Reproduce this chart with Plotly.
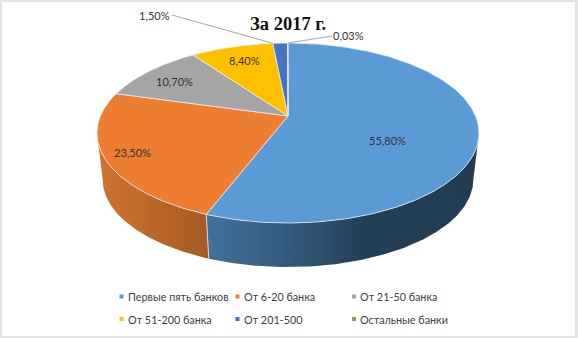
import numpy as np
import plotly.graph_objects as go

categories = ["Первые пять банков", "От 6-20 банка", "От 21-50 банка",
              "От 51-200 банка", "От 201-500", "Остальные банки"]
values = [55.8, 23.5, 10.7, 8.4, 1.5, 0.03]
value_labels = ["55,80%", "23,50%", "10,70%", "8,40%", "1,50%", "0,03%"]
colors = ["#5B9BD5", "#ED7D31", "#A5A5A5", "#FFC000", "#4472C4", "#70AD47"]
title_text = "За 2017 г."

W, H = 578, 338
CX, CY, A, B, K = 288, 116, 187.6, 86.8, 0.189
DY, S = 47.2, 0.97

def project(theta, radius=1.0, drop=0.0, scale=1.0):
    u, v = radius * np.sin(theta), -radius * np.cos(theta)
    w = 1 - K * v
    return CX + scale * A * u / w, CY + drop + scale * B * v / w

frac = np.array(values) / sum(values)
edges = np.concatenate([[0], np.cumsum(frac)]) * 2 * np.pi
ext_r = np.arccos(-K)
ext_l = 2 * np.pi - ext_r

fig = go.Figure()

# outer walls (front facing part only, between the two silhouette angles)
walls = {
    0: ([[0, "#41719B"], [0.3, "#34597E"], [0.58, "#243E56"], [1, "#223C51"]], 207, 480),
    1: ([[0, "#D0742F"], [1, "#A65924"]], 97, 209),
}
for i, (scale_, x0, x1) in walls.items():
    t = np.linspace(max(edges[i], ext_r), min(edges[i + 1], ext_l), 200)
    xt, yt = project(t)
    xb, yb = project(t[::-1], drop=DY, scale=S)
    fig.add_trace(go.Scatter(
        x=np.r_[xt, xb], y=np.r_[yt, yb], mode="lines", line=dict(width=0),
        fill="toself", hoverinfo="skip", showlegend=False,
        fillgradient=dict(type="horizontal", start=x0, stop=x1, colorscale=scale_)))

# wall seam
xa, ya = project(edges[1])
xc, yc = project(edges[1], drop=DY, scale=S)
fig.add_trace(go.Scatter(x=[xa, xc], y=[ya, yc], mode="lines",
                         line=dict(color="#D9D9D9", width=1),
                         hoverinfo="skip", showlegend=False))

# top faces
for i, cat in enumerate(categories):
    t = np.linspace(edges[i], edges[i + 1], 240)
    x, y = project(t)
    fig.add_trace(go.Scatter(
        x=np.r_[CX, x, CX], y=np.r_[CY, y, CY], mode="lines", name=cat,
        line=dict(color="#E8EEF4", width=0.8), fill="toself", fillcolor=colors[i],
        showlegend=False))

# leader lines
mx, my = project(edges[4])
fig.add_trace(go.Scatter(x=[mx, 172], y=[my, 15], mode="lines",
                         line=dict(color="#A6A6A6", width=1), hoverinfo="skip", showlegend=False))
mx, my = project((edges[5] + edges[6]) / 2)
fig.add_trace(go.Scatter(x=[mx, 328, 332], y=[my, 36, 36], mode="lines",
                         line=dict(color="#A6A6A6", width=1), hoverinfo="skip", showlegend=False))

# data labels
label_pos = [(387.5, 140), (132, 152), (174, 81), (244, 60), (154, 15), (348, 35)]
for txt, (lx, ly) in zip(value_labels, label_pos):
    fig.add_annotation(x=lx, y=ly, text=txt, showarrow=False,
                       font=dict(family="Lato", size=11, color="#333333"))

# title
fig.add_annotation(x=288, y=23.5, text="<b>%s</b>" % title_text, showarrow=False,
                   font=dict(family="Liberation Serif", size=18.5, color="#111111"))

# legend
leg_x = [121.5, 237.5, 354]
leg_y = [296.5, 319]
for i, cat in enumerate(categories):
    lx, ly = leg_x[i % 3], leg_y[i // 3]
    fig.add_trace(go.Scatter(x=[lx], y=[ly], mode="markers",
                             marker=dict(symbol="square", size=4, color=colors[i]),
                             hoverinfo="skip", showlegend=False))
    fig.add_annotation(x=lx + 5, y=ly, text=cat, showarrow=False, xanchor="left", borderpad=0,
                       font=dict(family="Lato", size=10.8, color="#404040"))

# frame
fig.add_shape(type="rect", x0=0, y0=0, x1=W, y1=H, line=dict(width=0),
              fillcolor="#E3E3E3", layer="below")
fig.add_shape(type="rect", x0=2, y0=2, x1=575, y1=336, line=dict(width=0),
              fillcolor="white", layer="below")

fig.update_layout(
    width=W, height=H, margin=dict(l=0, r=0, t=0, b=0),
    paper_bgcolor="white", plot_bgcolor="white", hovermode=False,
    xaxis=dict(range=[0, W], visible=False, fixedrange=True),
    yaxis=dict(range=[H, 0], visible=False, fixedrange=True),
)
fig.write_html("out.html", config={"displayModeBar": False},
               post_script="document.body.style.margin='0';")
